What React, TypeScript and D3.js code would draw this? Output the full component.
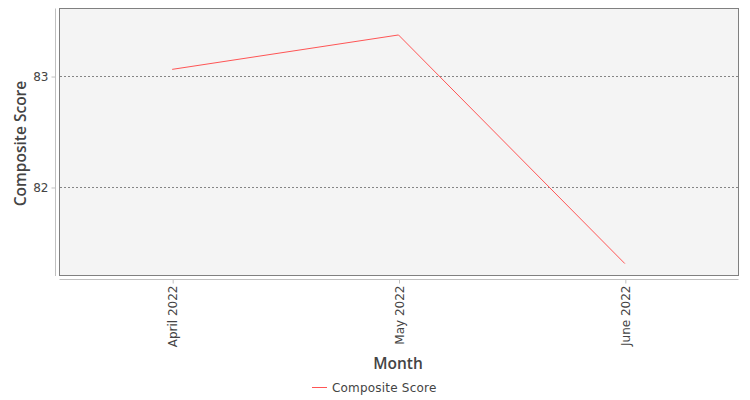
import * as d3 from "d3";
import { useEffect, useRef } from "react";

const months = ["April 2022", "May 2022", "June 2022"];
const compositeScore = [83.06, 83.37, 81.31];
const yTicks = [82, 83];
const seriesName = "Composite Score";

const App = () => {
    const ref = useRef<SVGSVGElement | null>(null);

    useEffect(() => {
        if (!ref.current) return;

        const width = 750, height = 400;
        const plot = { left: 59, right: 738, top: 8, bottom: 275 };
        const font = "'DejaVu Sans', sans-serif";
        const titleFont = "'Open Sans', 'Noto Sans', sans-serif";
        const textColor = "#444444";

        const svg = d3.select(ref.current);
        svg.selectAll("*").remove();

        svg.append("rect")
            .attr("width", width)
            .attr("height", height)
            .attr("fill", "#ffffff");

        // scales
        const x = d3.scalePoint<string>()
            .domain(months)
            .range([plot.left, plot.right])
            .padding(0.5);

        const y = d3.scaleLinear()
            .domain([81.207, 83.613])
            .range([plot.bottom, plot.top]);

        // plot background
        svg.append("rect")
            .attr("x", plot.left + 0.5)
            .attr("y", plot.top + 0.5)
            .attr("width", plot.right - plot.left)
            .attr("height", plot.bottom - plot.top)
            .attr("fill", "#f4f4f4")
            .attr("stroke", "#808080")
            .attr("stroke-width", 1);

        // gridlines
        svg.append("g")
            .selectAll("line")
            .data(yTicks)
            .join("line")
            .attr("x1", plot.left + 1)
            .attr("x2", plot.right)
            .attr("y1", d => Math.round(y(d)) + 0.5)
            .attr("y2", d => Math.round(y(d)) + 0.5)
            .attr("stroke", "#858585")
            .attr("stroke-width", 1)
            .attr("stroke-dasharray", "2,2");

        // y axis
        const yAxis = svg.append("g")
            .attr("transform", `translate(55.5,0.5)`)
            .call(d3.axisLeft(y).tickValues(yTicks).tickSize(4).tickPadding(3).tickFormat(d3.format("d")));
        yAxis.select(".domain")
            .attr("d", `M0,${plot.top}V${plot.bottom + 0.5}`)
            .attr("stroke", "#c0c0c0");
        yAxis.selectAll(".tick line").attr("stroke", "#c0c0c0");
        yAxis.selectAll(".tick text")
            .attr("fill", textColor)
            .style("font-family", font)
            .style("font-size", "12px");

        // x axis
        const xAxis = svg.append("g")
            .attr("transform", `translate(0.5,279.5)`)
            .call(d3.axisBottom(x).tickSize(4).tickSizeOuter(0));
        xAxis.select(".domain")
            .attr("d", `M${plot.left},0H${plot.right}`)
            .attr("stroke", "#c0c0c0");
        xAxis.selectAll(".tick line").attr("stroke", "#c0c0c0");
        xAxis.selectAll(".tick text")
            .attr("fill", textColor)
            .style("font-family", font)
            .style("font-size", "12px")
            .attr("transform", "rotate(-90)")
            .attr("x", -6)
            .attr("y", 0)
            .attr("dy", "0.35em")
            .style("text-anchor", "end");

        // series line
        const line = d3.line<number>()
            .x((_, i) => x(months[i])!)
            .y(d => y(d));

        svg.append("path")
            .datum(compositeScore)
            .attr("d", line)
            .attr("fill", "none")
            .attr("stroke", "#ff5555")
            .attr("stroke-width", 1);

        // axis titles
        svg.append("text")
            .attr("transform", `translate(26,${(plot.top + plot.bottom) / 2 + 2}) rotate(-90)`)
            .attr("text-anchor", "middle")
            .attr("fill", textColor)
            .style("font-family", titleFont)
            .style("font-size", "15.5px")
            .style("font-weight", 600)
            .text("Composite Score");

        svg.append("text")
            .attr("x", 398)
            .attr("y", 368.5)
            .attr("text-anchor", "middle")
            .attr("fill", textColor)
            .style("font-family", titleFont)
            .style("font-size", "15.5px")
            .style("font-weight", 600)
            .text("Month");

        // legend
        svg.append("line")
            .attr("x1", 312)
            .attr("x2", 327)
            .attr("y1", 387.5)
            .attr("y2", 387.5)
            .attr("stroke", "#ff5555")
            .attr("stroke-width", 1);

        svg.append("text")
            .attr("x", 332)
            .attr("y", 392)
            .attr("fill", textColor)
            .style("font-family", font)
            .style("font-size", "12px")
            .style("letter-spacing", "0.2px")
            .text(seriesName);
    }, []);

    return (
        <div style={{ position: "absolute", left: 0, top: 0 }}>
            <svg width={750} height={400} ref={ref} style={{ display: "block" }} />
        </div>
    );
};

export default App;
